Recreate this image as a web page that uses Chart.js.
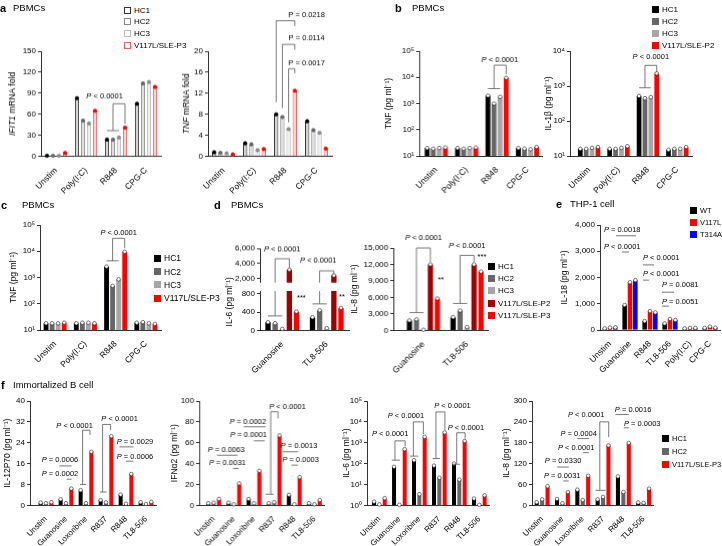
<!DOCTYPE html>
<html>
<head>
<meta charset="utf-8">
<title>PBMC / THP-1 / B cell cytokines</title>
<script src="https://cdn.jsdelivr.net/npm/chart.js@4.4.1/dist/chart.umd.min.js"></script>
<style>
  body { margin:0; width:722px; height:546px; overflow:hidden; position:relative; background:#fff;
         font-family:"Liberation Sans", Arial, sans-serif; color:#000; }
  .box { position:absolute; }
  .hd { position:absolute; white-space:nowrap; line-height:12px; }
  .leg { position:absolute; white-space:nowrap; }
  .leg div { position:absolute; left:0; display:flex; align-items:center; height:8px; }
  .leg i { display:inline-block; width:7px; height:7px; margin-right:3px; box-sizing:border-box; }
</style>
</head>
<body>
<script>
const FONT = '"Liberation Sans", Arial, sans-serif';

// ---- categories / series names ----
const catsA = ['Unstim', 'Poly(I:C)', 'R848', 'CPG-C'];
const catsD = ['Guanosine', 'TL8-506'];
const catsE = ['Unstim', 'Guanosine', 'R848', 'TL8-506', 'Poly(I:C)', 'CPG-C'];
const catsF = ['Unstim', 'Guanosine', 'Loxoribine', 'R837', 'R848', 'TL8-506'];

const namesP3 = ['HC1', 'HC2', 'HC3', 'V117L/SLE-P3'];
const namesP2 = ['HC1', 'HC2', 'HC3', 'V117L/SLE-P2'];
const namesD = ['HC1', 'HC2', 'HC3', 'V117L/SLE-P2', 'V117L/SLE-P3'];
const namesE = ['WT', 'V117L', 'T314A'];
const namesF = ['HC1', 'HC2', 'V117L/SLE-P3'];

// ---- values (one row per series) ----
const ifit1 = [[1, 83, 24, 75], [1, 51, 24, 104], [1, 47, 27, 106], [5, 65, 41, 99]];
const tnfMrna = [[0.8, 2.5, 8, 6.7], [0.7, 2.3, 7.5, 5], [0.6, 1.2, 5.2, 4.5], [0.4, 1.4, 12.5, 1.5]];
const tnfB = [[20, 20, 2000, 20], [19, 19, 1000, 19], [20, 20, 1800, 18], [21, 21, 9500, 22]];
const il1b = [[16, 16, 520, 15], [16, 16, 450, 16], [17, 17, 480, 16], [18, 19, 2300, 18]];
const tnfC = [[18, 18, 2600, 19], [18, 19, 480, 20], [18, 19, 850, 18], [19, 18, 9500, 17]];
const il6D = [[180, 290], [160, 440], [35, 50], [3200, 2450], [410, 490]];
const il8D = [[1800, 2400], [2000, 3600], [100, 600], [12000, 12000], [5800, 10700]];
const il18 = [[60, 950, 340, 250, 60, 80], [90, 1820, 720, 420, 80, 130], [100, 1900, 670, 380, 80, 90]];
const il12 = [[1, 2.3, 5.8, 2, 4.1, 1.2], [0.8, 0.8, 0.8, 1.1, 0.6, 0.5], [1.2, 6.4, 20.5, 26.5, 12, 1.3]];
const ifna2 = [[2, 2.5, 6, 2, 10, 2], [2.5, 1, 2, 3, 1, 1], [6, 21, 33, 67, 27, 5]];
const il6F = [[1.5, 70, 145, 80, 100, 2.1], [1.1, 1.05, 3.4, 21, 17, 1.05], [2.2, 490, 1900, 3100, 1200, 3]];
const il8F = [[9, 18, 45, 17, 83, 8], [17, 6, 15, 24, 38, 7], [55, 38, 85, 172, 179, 48]];

// ---- tick labels ----
const ticksIfit1 = [0, 30, 60, 90, 120, 150];
const ticksTnfMrna = [0, 4, 8, 12, 16, 20];
const ticksLog5 = [10, 100, 1000, 10000, 100000];
const ticksLog4 = [10, 100, 1000, 10000];
const ticksIl6Top = [2000, 4000, 6000];
const ticksIl6Low = [0, 200, 400, 600, 800];
const ticksIl8D = [0, 3000, 6000, 9000, 12000, 15000];
const ticksIl18 = [0, 1000, 2000, 3000, 4000];
const ticksIl12 = [0, 8, 16, 24, 32, 40];
const ticksIfna = [0, 20, 40, 60, 80, 100];
const ticksLog0 = [1, 10, 100, 1000, 10000, 100000];
const ticksIl8F = [0, 60, 120, 180, 240, 300];

// ---- colours ----
const colHC = ['#000000', '#666666', '#a6a6a6'];
const colP = [...colHC, '#ff0000'];
const colD = [...colHC, '#a00000', '#ff0000'];
const colE = ['#000000', '#ff0000', '#0000ff'];
const colF = ['#000000', '#666666', '#ff0000'];
const edgeA = ['#333333', '#888888', '#bbbbbb', '#f06060'];
const fillA = ['#d4d4d4', '#e0e0e0', '#efefef', '#fbd2d2'];
const dotA = ['#000000', '#666666', '#8c8c8c', '#ff0000'];

// bar centre inside a group, in category units
const at = (c, d, n) => c + 0.8 * ((d + 0.5) / n - 0.5);

const SUP = { '0': '⁰', '1': '¹', '2': '²', '3': '³', '4': '⁴', '5': '⁵' };
const logLabel = v => '10' + String(Math.round(Math.log10(v))).split('').map(c => SUP[c]).join('');
const comma = v => Number(v).toLocaleString('en-US');

const extras = new WeakMap();

function label(ctx, t, x, y, al, up) {
  const fn = '7.5px ' + FONT, fi = (up ? '' : 'italic ') + '7.5px ' + FONT;
  let head = '', rest = t;
  if (t.charAt(0) === 'P') { head = 'P'; rest = t.slice(1); }
  ctx.font = fi; const w1 = ctx.measureText(head).width;
  ctx.font = fn; const w2 = ctx.measureText(rest).width;
  const x0 = al === 'left' ? x : al === 'right' ? x - w1 - w2 : x - (w1 + w2) / 2;
  ctx.fillStyle = '#000'; ctx.textBaseline = 'middle'; ctx.textAlign = 'left';
  ctx.font = fi; ctx.fillText(head, x0, y);
  ctx.font = fn; ctx.fillText(rest, x0 + w1, y);
}

// dots on bar tops + P-value brackets
const marks = {
  id: 'marks',
  afterDatasetsDraw(chart) {
    const o = extras.get(chart.canvas);
    const ctx = chart.ctx, xs = chart.scales.x, ys = chart.scales.y, ca = chart.chartArea;
    const px = v => xs.getPixelForValue(v), py = v => ys.getPixelForValue(v);
    ctx.save();
    chart.data.datasets.forEach((ds, i) => {
      chart.getDatasetMeta(i).data.forEach(bar => {
        if (bar.y < ca.top - 0.5 || bar.y > ca.bottom + 0.5) return;
        ctx.beginPath();
        ctx.arc(bar.x, bar.y, 1.8, 0, 2 * Math.PI);
        ctx.fillStyle = o.dotFill ? o.dotFill[i] : '#ffffff';
        ctx.strokeStyle = o.dotFill ? o.dotFill[i] : '#222222';
        ctx.lineWidth = 0.6;
        ctx.fill(); ctx.stroke();
      });
    });
    ctx.strokeStyle = '#555555'; ctx.lineWidth = 0.8;
    (o.notes || []).forEach(n => {
      if (n.a !== undefined) {
        ctx.beginPath();
        if (n.ya !== undefined) { ctx.moveTo(px(n.a), py(n.ya)); ctx.lineTo(px(n.a), py(n.y)); }
        else ctx.moveTo(px(n.a), py(n.y));
        ctx.lineTo(px(n.b), py(n.y));
        if (n.yb !== undefined) ctx.lineTo(px(n.b), py(n.yb));
        ctx.stroke();
      }
      if (n.t) label(ctx, n.t, px(n.tx), py(n.ty), n.al || 'center', o.up || n.up);
    });
    ctx.restore();
  }
};

// y axis title with italic parts
const ytitle = {
  id: 'ytitle',
  afterDraw(chart) {
    const o = extras.get(chart.canvas);
    if (!o.title) return;
    const ctx = chart.ctx, ca = chart.chartArea;
    ctx.save();
    ctx.translate(ca.left - o.off, (ca.top + ca.bottom) / 2 + (o.tdy || 0));
    ctx.rotate(-Math.PI / 2);
    ctx.textBaseline = 'middle'; ctx.textAlign = 'left'; ctx.fillStyle = '#000';
    const fonts = o.title.map(p => (p.i ? 'italic ' : '') + '8.5px ' + FONT);
    let tot = 0;
    const ws = o.title.map((p, k) => { ctx.font = fonts[k]; const w = ctx.measureText(p.t).width; tot += w; return w; });
    let x = -tot / 2;
    o.title.forEach((p, k) => { ctx.font = fonts[k]; ctx.fillText(p.t, x, 0); x += ws[k]; });
    ctx.restore();
  }
};

function plot(o) {
  const [L, T, R, B] = o.area;
  const YW = (o.off || 26) + 8, PT = o.pt || 26, PR = 10, XH = o.noX ? 0 : 52, PB = o.noX ? 2 : 0;
  const box = document.createElement('div');
  box.className = 'box';
  const w = R - L + YW + PR, h = B - T + PT + XH + PB;
  box.style.width = w + 'px'; box.style.height = h + 'px';
  box.style.left = (L - YW) + 'px'; box.style.top = (T - PT) + 'px';
  const cv = document.createElement('canvas');
  box.appendChild(cv); document.body.appendChild(box);
  extras.set(cv, o);

  const chart = new Chart(cv, {
    type: 'bar',
    data: {
      labels: o.cats,
      datasets: o.vals.map((v, i) => ({
        data: v,
        backgroundColor: o.edge ? o.fillA[i] : o.col[i],
        borderColor: o.edge ? o.edge[i] : o.col[i],
        borderWidth: o.edge ? 1 : 0,
        categoryPercentage: 0.8,
        barPercentage: o.bp || 0.75
      }))
    },
    options: {
      responsive: true, maintainAspectRatio: false, animation: false,
      layout: { padding: { top: PT, right: PR, bottom: PB, left: 0 } },
      plugins: { legend: { display: false }, tooltip: { enabled: false } },
      scales: {
        x: {
          offset: true,
          grid: { display: false },
          border: { display: !o.noX, color: '#000', width: 0.8 },
          ticks: { display: !o.noX, color: '#000', font: { family: FONT, size: o.xfs || 8.5 },
                   minRotation: 45, maxRotation: 45, autoSkip: false, padding: 1 },
          afterFit: s => { s.height = XH; },
          afterBuildTicks: s => { if (o.gap) { s._startValue -= o.gap; s._valueRange += o.gap; } }
        },
        y: {
          type: o.type || 'linear', min: o.min, max: o.max,
          grid: { drawOnChartArea: false, color: '#000', lineWidth: 0.8, tickLength: 3 },
          border: { color: '#000', width: 0.8 },
          ticks: { color: '#000', font: { family: FONT, size: 8 }, padding: 2,
                   callback: o.fmt || (v => v) },
          afterBuildTicks: s => { s.ticks = o.ticks.map(v => ({ value: v })); },
          afterFit: s => { s.width = YW; }
        }
      }
    },
    plugins: [marks, ytitle]
  });

  // line the plot area up with the target box
  const ca = chart.chartArea;
  const dw = (R - L) - (ca.right - ca.left), dh = (B - T) - (ca.bottom - ca.top);
  if (Math.abs(dw) > 0.1 || Math.abs(dh) > 0.1) {
    box.style.width = (w + dw) + 'px'; box.style.height = (h + dh) + 'px';
    chart.resize();
  }
  const c2 = chart.chartArea;
  box.style.left = (L - c2.left) + 'px';
  box.style.top = (T - c2.top) + 'px';
  return chart;
}

function legend(x, y, dy, names, cols, hollow, fs) {
  const el = document.createElement('div'); el.className = 'leg';
  el.style.left = x + 'px'; el.style.top = y + 'px'; el.style.fontSize = (fs || 8) + 'px';
  names.forEach((nm, i) => {
    const row = document.createElement('div'); row.style.top = (i * dy) + 'px';
    const sw = document.createElement('i');
    if (hollow) sw.style.border = '1px solid ' + cols[i]; else sw.style.background = cols[i];
    row.appendChild(sw); row.appendChild(document.createTextNode(nm));
    el.appendChild(row);
  });
  document.body.appendChild(el);
}

function head(x1, x2, yc, letter, text) {
  const a = document.createElement('div'); a.className = 'hd';
  a.style.left = x1 + 'px'; a.style.top = (yc - 6) + 'px';
  a.style.fontSize = '11px'; a.style.fontWeight = 'bold'; a.textContent = letter;
  const b = document.createElement('div'); b.className = 'hd';
  b.style.left = x2 + 'px'; b.style.top = (yc - 6) + 'px'; b.style.fontSize = '9.5px'; b.textContent = text;
  document.body.appendChild(a); document.body.appendChild(b);
}

// ---------- panel a ----------
plot({ area: [41, 51, 161, 155.7], cats: catsA, vals: ifit1, col: colP, edge: edgeA, fillA: fillA, dotFill: dotA,
  ticks: ticksIfit1, min: 0, max: 150, bp: 0.7, off: 28,
  title: [{ t: 'IFIT1', i: 1 }, { t: ' mRNA fold' }],
  notes: [
    { a: at(2, 0, 4), b: at(2, 2, 4), y: 36.8 },
    { a: at(2, 1, 4), b: at(2, 3, 4), y: 75, ya: 36.8, yb: 46.4, t: 'P < 0.0001', tx: 1.62, ty: 85.5 }
  ] });
plot({ area: [208, 51, 332, 155.7], cats: catsA, vals: tnfMrna, col: colP, edge: edgeA, fillA: fillA, dotFill: dotA,
  ticks: ticksTnfMrna, min: 0, max: 20, bp: 0.7, off: 21, up: 1, pt: 50,
  title: [{ t: 'TNF', i: 1 }, { t: ' mRNA fold' }],
  notes: [
    { a: at(2, 0, 4), b: at(2, 3, 4), y: 25.8, ya: 10.3, yb: 24.8, t: 'P = 0.0218', tx: 2.68, ty: 26.9 },
    { a: at(2, 1, 4), b: at(2, 3, 4), y: 21.3, ya: 9.2, yb: 20.3, t: 'P = 0.0114', tx: 2.68, ty: 22.4 },
    { a: at(2, 2, 4), b: at(2, 3, 4), y: 16.7, ya: 6.5, yb: 15.8, t: 'P = 0.0017', tx: 2.68, ty: 17.8 }
  ] });

// ---------- panel b ----------
plot({ area: [419.3, 50.7, 542, 155.7], cats: catsA, vals: tnfB, col: colP, type: 'logarithmic',
  min: 10, max: 100000, ticks: ticksLog5, fmt: logLabel, gap: 0.06, bp: 0.8, off: 30,
  title: [{ t: 'TNF (pg ml⁻¹)' }],
  notes: [
    { a: at(2, 0, 4), b: at(2, 2, 4), y: 3700 },
    { a: at(2, 1, 4), b: at(2, 3, 4), y: 29000, ya: 3700, yb: 13000, t: 'P < 0.0001', tx: 2.09, ty: 45000 }
  ] });
plot({ area: [570, 50.7, 692, 155.7], cats: catsA, vals: il1b, col: colP, type: 'logarithmic',
  min: 10, max: 10000, ticks: ticksLog4, fmt: logLabel, gap: 0.15, bp: 0.8, off: 21,
  title: [{ t: 'IL-1β (pg ml⁻¹)' }],
  notes: [
    { a: at(2, 0, 4), b: at(2, 2, 4), y: 890 },
    { a: at(2, 1, 4), b: at(2, 3, 4), y: 3900, ya: 890, yb: 2500, t: 'P < 0.0001', tx: 2.1, ty: 6700 }
  ] });

// ---------- panel c ----------
plot({ area: [40, 225, 161, 330], cats: catsA, vals: tnfC, col: colP, type: 'logarithmic',
  min: 10, max: 100000, ticks: ticksLog5, fmt: logLabel, bp: 0.8, off: 26,
  title: [{ t: 'TNF (pg ml⁻¹)' }],
  notes: [
    { a: at(2, 0, 4), b: at(2, 2, 4), y: 4300 },
    { a: at(2, 1, 4), b: at(2, 3, 4), y: 31000, ya: 4300, yb: 13000, t: 'P < 0.0001', tx: 2.1, ty: 50000 }
  ] });

// ---------- panel d (IL-6 with broken axis) ----------
plot({ area: [260, 248, 349, 281.75], cats: catsD, vals: il6D, col: colD, noX: true,
  min: 1500, max: 6000, ticks: ticksIl6Top, fmt: comma, bp: 0.75, off: 25,
  notes: [
    { a: at(0, 1, 5), b: at(0, 3, 5), y: 4640, ya: 1500, yb: 3500, t: 'P < 0.0001', tx: 0, ty: 5900 },
    { a: at(1, 1, 5), b: at(1, 3, 5), y: 3050, ya: 1500, yb: 2600, t: 'P < 0.0001', tx: 0.81, ty: 4400 }
  ] });
plot({ area: [260, 290.5, 349, 330], cats: catsD, vals: il6D, col: colD,
  min: 0, max: 860, ticks: ticksIl6Low, fmt: comma, bp: 0.75, off: 30, tdy: -9,
  title: [{ t: 'IL-6 (pg ml⁻¹)' }],
  notes: [
    { a: at(0, 0, 5), b: at(0, 2, 5), y: 318 },
    { a: at(0, 1, 5), b: at(0, 1, 5), y: 860, ya: 318, yb: 860 },
    { a: at(1, 0, 5), b: at(1, 2, 5), y: 580 },
    { a: at(1, 1, 5), b: at(1, 1, 5), y: 860, ya: 580, yb: 860 },
    { t: '***', tx: 0.43, ty: 700 },
    { t: '**', tx: 1.34, ty: 740 }
  ] });
plot({ area: [392.7, 247.7, 487.6, 330], cats: catsD, vals: il8D, col: colD,
  min: 0, max: 15000, ticks: ticksIl8D, fmt: comma, gap: 0.19, bp: 0.75, off: 38,
  title: [{ t: 'IL-8 (pg ml⁻¹)' }],
  notes: [
    { a: at(0, 0, 5), b: at(0, 2, 5), y: 3220 },
    { a: at(0, 1, 5), b: at(0, 3, 5), y: 15000, ya: 3220, yb: 12440, t: 'P < 0.0001', tx: 0, ty: 16750 },
    { a: at(1, 0, 5), b: at(1, 2, 5), y: 4900 },
    { a: at(1, 1, 5), b: at(1, 3, 5), y: 13660, ya: 4900, yb: 12440, t: 'P < 0.0001', tx: 1.0, ty: 15300 },
    { t: '**', tx: 0.4, ty: 9100 },
    { t: '***', tx: 1.34, ty: 13350 }
  ] });

// ---------- panel e ----------
plot({ area: [600, 225, 720, 330], cats: catsE, vals: il18, col: colE,
  min: 0, max: 4000, ticks: ticksIl18, fmt: comma, bp: 0.85, off: 35,
  title: [{ t: 'IL-18 (pg ml⁻¹)' }],
  notes: [
    { a: 0.3, b: 1.3, y: 3590, t: 'P = 0.0018', tx: -0.3, ty: 3800, al: 'left' },
    { a: 0.6, b: 0.95, y: 2970, t: 'P < 0.0001', tx: -0.3, ty: 3160, al: 'left' },
    { a: 1.65, b: 2.2, y: 2480, t: 'P < 0.0001', tx: 1.65, ty: 2740, al: 'left' },
    { a: 1.65, b: 1.95, y: 1900, t: 'P < 0.0001', tx: 1.65, ty: 2130, al: 'left' },
    { a: 2.6, b: 3.2, y: 1440, t: 'P = 0.0081', tx: 2.6, ty: 1710, al: 'left' },
    { a: 2.6, b: 2.95, y: 910, t: 'P = 0.0051', tx: 2.6, ty: 1080, al: 'left' }
  ] });

// ---------- panel f ----------
plot({ area: [30, 400.7, 156, 505], cats: catsF, vals: il12, col: colF, xfs: 8,
  min: 0, max: 40, ticks: ticksIl12, gap: 0.3, bp: 0.75, off: 22,
  title: [{ t: 'IL-12P70 (pg ml⁻¹)' }],
  notes: [
    { a: 0.67, b: 1.28, y: 15.1, t: 'P = 0.0006', tx: 0.7, ty: 17.3 },
    { a: 1.03, b: 1.28, y: 10, t: 'P = 0.0002', tx: 0.7, ty: 11.9 },
    { a: 1.7, b: 2.0, y: 8 },
    { a: 1.83, b: 2.2, y: 28.8, ya: 8, yb: 27, t: 'P < 0.0001', tx: 1.43, ty: 30.5 },
    { a: 2.7, b: 3.03, y: 5.1 },
    { a: 2.83, b: 3.23, y: 31, ya: 5.1, yb: 28.8, t: 'P < 0.0001', tx: 3.68, ty: 33 },
    { a: 3.67, b: 4.37, y: 22.4, t: 'P = 0.0029', tx: 4.45, ty: 24.4 },
    { a: 4.0, b: 4.37, y: 16.9, t: 'P = 0.0006', tx: 4.45, ty: 18.6 }
  ] });
plot({ area: [199, 400.7, 323.5, 505], cats: catsF, vals: ifna2, col: colF, xfs: 8,
  min: 0, max: 100, ticks: ticksIfna, gap: 0.22, bp: 0.75, off: 24,
  title: [{ t: 'IFNα2 (pg ml⁻¹)' }],
  notes: [
    { a: 0.16, b: 1.19, y: 48, t: 'P = 0.0063', tx: 0.62, ty: 53.5 },
    { a: 0.96, b: 1.24, y: 35.3, t: 'P = 0.0031', tx: 0.68, ty: 40.7 },
    { a: 1.49, b: 2.58, y: 75.3, t: 'P = 0.0002', tx: 1.7, ty: 80 },
    { a: 1.99, b: 2.53, y: 61.8, t: 'P = 0.0001', tx: 1.73, ty: 67.3 },
    { a: 2.58, b: 2.98, y: 10.6 },
    { a: 2.83, b: 3.19, y: 89.7, ya: 10.6, yb: 83.3, t: 'P < 0.0001', tx: 3.66, ty: 94.5 },
    { a: 3.41, b: 4.19, y: 51.3, t: 'P = 0.0013', tx: 4.23, ty: 56.7 },
    { a: 3.86, b: 4.19, y: 38.5, t: 'P = 0.0003', tx: 4.31, ty: 43.3 }
  ] });
plot({ area: [367, 400.7, 489.3, 505], cats: catsF, vals: il6F, col: colF, type: 'logarithmic', xfs: 8,
  min: 1, max: 100000, ticks: ticksLog0, fmt: logLabel, gap: 0.12, bp: 0.75, off: 20,
  title: [{ t: 'IL-6 (pg ml⁻¹)' }],
  notes: [
    { a: 0.62, b: 1.03, y: 146 },
    { a: 0.78, b: 1.29, y: 1230, ya: 146, yb: 690, t: 'P < 0.0001', tx: 0.54, ty: 2570 },
    { a: 1.53, b: 1.95, y: 228 },
    { a: 1.7, b: 2.2, y: 10000, ya: 228, yb: 2570, t: 'P < 0.0001', tx: 1.33, ty: 19000 },
    { a: 2.67, b: 3.03, y: 175 },
    { a: 2.83, b: 3.28, y: 30000, ya: 175, yb: 4000, t: 'P < 0.0001', tx: 3.66, ty: 57000 },
    { a: 3.67, b: 4.03, y: 93 },
    { a: 3.87, b: 4.29, y: 3000, ya: 93, yb: 1600, t: 'P < 0.0001', tx: 4.33, ty: 5400 }
  ] });
plot({ area: [531.7, 400.7, 653.5, 505], cats: catsF, vals: il8F, col: colF, xfs: 8,
  min: 0, max: 300, ticks: ticksIl8F, bp: 0.75, off: 25,
  title: [{ t: 'IL-8 (pg ml⁻¹)' }],
  notes: [
    { a: 0.74, b: 1.31, y: 110, t: 'P = 0.0330', tx: 1.03, ty: 127.5 },
    { a: 1.04, b: 1.31, y: 70, t: 'P = 0.0031', tx: 0.99, ty: 83.4 },
    { a: 1.73, b: 2.3, y: 192, t: 'P = 0.0004', tx: 1.8, ty: 206 },
    { a: 2.02, b: 2.3, y: 151.5, t: 'P < 0.0001', tx: 1.68, ty: 166 },
    { a: 2.63, b: 3.12, y: 43 },
    { a: 2.84, b: 3.28, y: 240, ya: 43, yb: 196, t: 'P < 0.0001', tx: 2.17, ty: 261 },
    { a: 3.61, b: 4.27, y: 261, t: 'P = 0.0016', tx: 4.48, ty: 275 },
    { a: 4.02, b: 4.27, y: 223, t: 'P = 0.0003', tx: 4.93, ty: 233 }
  ] });

// ---------- legends & headers ----------
legend(124, 6, 11.7, namesP3, edgeA, true);
legend(652, 5, 12, namesP2, colP, false);
legend(154, 254.3, 13.3, namesP3, colP, false, 8.5);
legend(488, 262, 12.4, namesD, colD, false);
legend(690, 206, 12.3, namesE, colE, false, 7.5);
legend(662, 434.3, 13, namesF, colF, false, 7.5);

head(0, 13, 8, 'a', 'PBMCs');
head(395, 412, 8, 'b', 'PBMCs');
head(1, 22, 205, 'c', 'PBMCs');
head(214, 231, 205, 'd', 'PBMCs');
head(556, 570, 204, 'e', 'THP-1 cell');
head(1, 13, 385, 'f', 'Immortalized B cell');
</script>
</body>
</html>
